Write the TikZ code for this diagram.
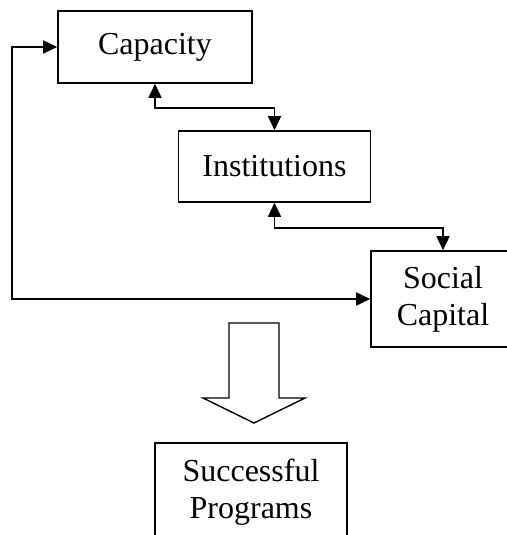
\documentclass[tikz,border=0pt]{standalone}
\usepackage{fontspec}
\setmainfont{Liberation Serif}
\usetikzlibrary{arrows.meta}

\begin{document}
\begin{tikzpicture}[x=1pt,y=-1pt,
  >={Triangle[length=14pt,width=13pt]},
  block/.style={draw,line width=1.6pt,inner sep=0pt,align=center,
    font=\fontsize{32}{37}\selectfont},
  link/.style={line width=1.6pt,<->}]
  \useasboundingbox (0,0) rectangle (506,535);
  \node[block,minimum width=194pt,minimum height=72pt] (cap) at (155,47) {Capacity};
  \node[block,minimum width=192pt,minimum height=71pt] (inst) at (274.5,166.5) {Institutions};
  \node[block,minimum width=144pt,minimum height=96pt] (soc) at (443,299) {Social\\Capital};
  \node[block,minimum width=192pt,minimum height=98pt] (prog) at (251,492) {Successful\\Programs};
  \coordinate (loop) at (12,0);
  \draw[link] (cap.south) -- ++(0,24) -| (inst.north);
  \draw[link] (inst.south) -- ++(0,25) -| (soc.north);
  \draw[link] (cap.west) -- (cap.west -| loop) -- (soc.west -| loop) -- (soc.west);
  \draw[line width=1.4pt] (229,323) -- (279,323) -- (279,398) -- (305,398)
    -- (254,423) -- (203,398) -- (229,398) -- cycle;
\end{tikzpicture}
\end{document}
